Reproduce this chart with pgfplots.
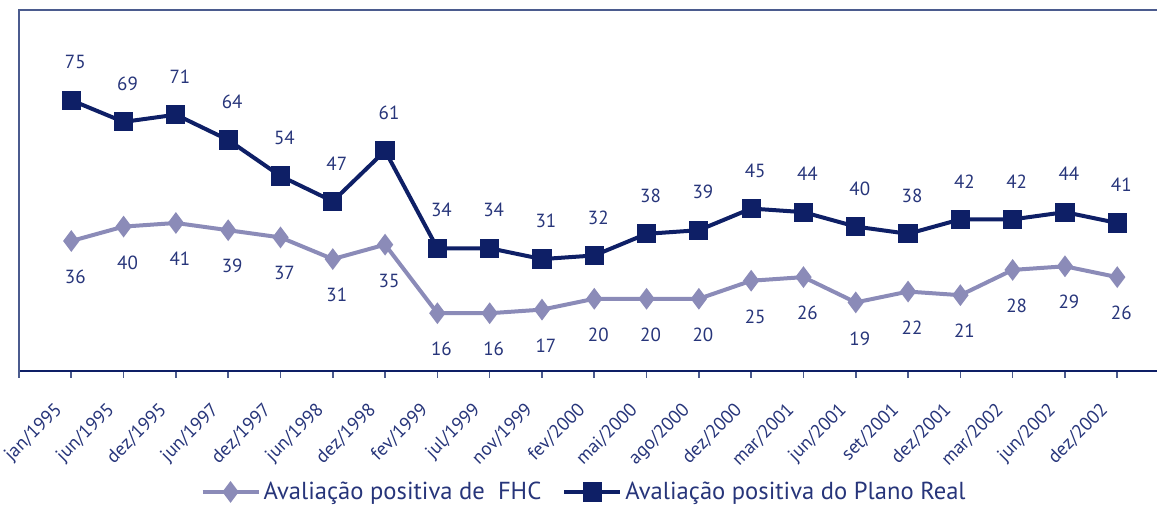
\documentclass[border=0pt]{standalone}
\usepackage{pgfplots}
\pgfplotsset{compat=1.18}
\usepackage{fontspec}
\setmainfont{PT Sans}
\definecolor{navy}{HTML}{0E1F66}
\definecolor{lav}{HTML}{8B8BB8}
\definecolor{txt}{HTML}{27357A}
\definecolor{frame}{HTML}{4B5B8E}
\begin{document}
\begin{tikzpicture}
\begin{axis}[
  name=ax,
  scale only axis, width=569pt, height=180.5pt,
  xmin=0, xmax=21.76, ymin=0, ymax=100,
  axis x line*=bottom, axis y line*=left,
  x axis line style={-, draw=navy, line width=1pt},
  y axis line style={-, draw=frame, line width=1pt},
  ytick=\empty,
  xtick={1,...,21},
  extra x ticks={0}, extra x tick labels={},
  xticklabels={jan/1995,jun/1995,dez/1995,jun/1997,dez/1997,jun/1998,dez/1998,fev/1999,jul/1999,nov/1999,fev/2000,mai/2000,ago/2000,dez/2000,mar/2001,jun/2001,set/2001,dez/2001,mar/2002,jun/2002,dez/2002},
  xtick align=outside, major tick length=3.5pt,
  xtick style={draw=frame, line width=0.8pt},
  x tick label style={xshift=-9pt, yshift=-10pt, rotate=45, anchor=north east, font=\fontsize{9.4}{11}\selectfont, text=txt, inner sep=1pt},
  /pgf/number format/assume math mode=true,
  nodes near coords,
  every node near coord/.append style={font=\fontsize{9.5}{11}\selectfont, text=txt, anchor=center},
  clip=false,
  legend columns=2,
  legend style={draw=none, fill=none, at={(0.497,-0.335)}, anchor=center, font=\fontsize{12.3}{14}\selectfont, text=txt,
    nodes={inner xsep=1.5pt},
    /tikz/every even column/.append style={column sep=9pt}},
  legend image code/.code={\draw[mark repeat=2,mark phase=2] plot coordinates {(0pt,0pt)(14pt,0pt)(28pt,0pt)};},
]
\addplot[color=lav, line width=2pt, mark=diamond*, mark size=3.8pt, mark options={solid},
  every node near coord/.append style={yshift=-18pt, xshift=2pt}]
coordinates {(1,36)(2,40)(3,41)(4,39)(5,37)(6,31)(7,35)(8,16)(9,16)(10,17)(11,20)(12,20)(13,20)(14,25)(15,26)(16,19)(17,22)(18,21)(19,28)(20,29)(21,26)};
\addlegendentry{Avaliação positiva de\ \ FHC}
\addplot[color=navy, line width=2pt, mark=square*, mark size=3.8pt, mark options={solid},
  every node near coord/.append style={yshift=19pt, xshift=2pt}]
coordinates {(1,75)(2,69)(3,71)(4,64)(5,54)(6,47)(7,61)(8,34)(9,34)(10,31)(11,32)(12,38)(13,39)(14,45)(15,44)(16,40)(17,38)(18,42)(19,42)(20,44)(21,41)};
\addlegendentry{Avaliação positiva do Plano Real}
\draw[frame, line width=1pt] (rel axis cs:0,0) -- (rel axis cs:0,1) -- (rel axis cs:1,1);
\end{axis}
\pgfresetboundingbox
\path ([shift={(-9.5pt,-67.5pt)}]ax.south west) rectangle ([shift={(0pt,5pt)}]ax.north east);
\end{tikzpicture}
\end{document}
